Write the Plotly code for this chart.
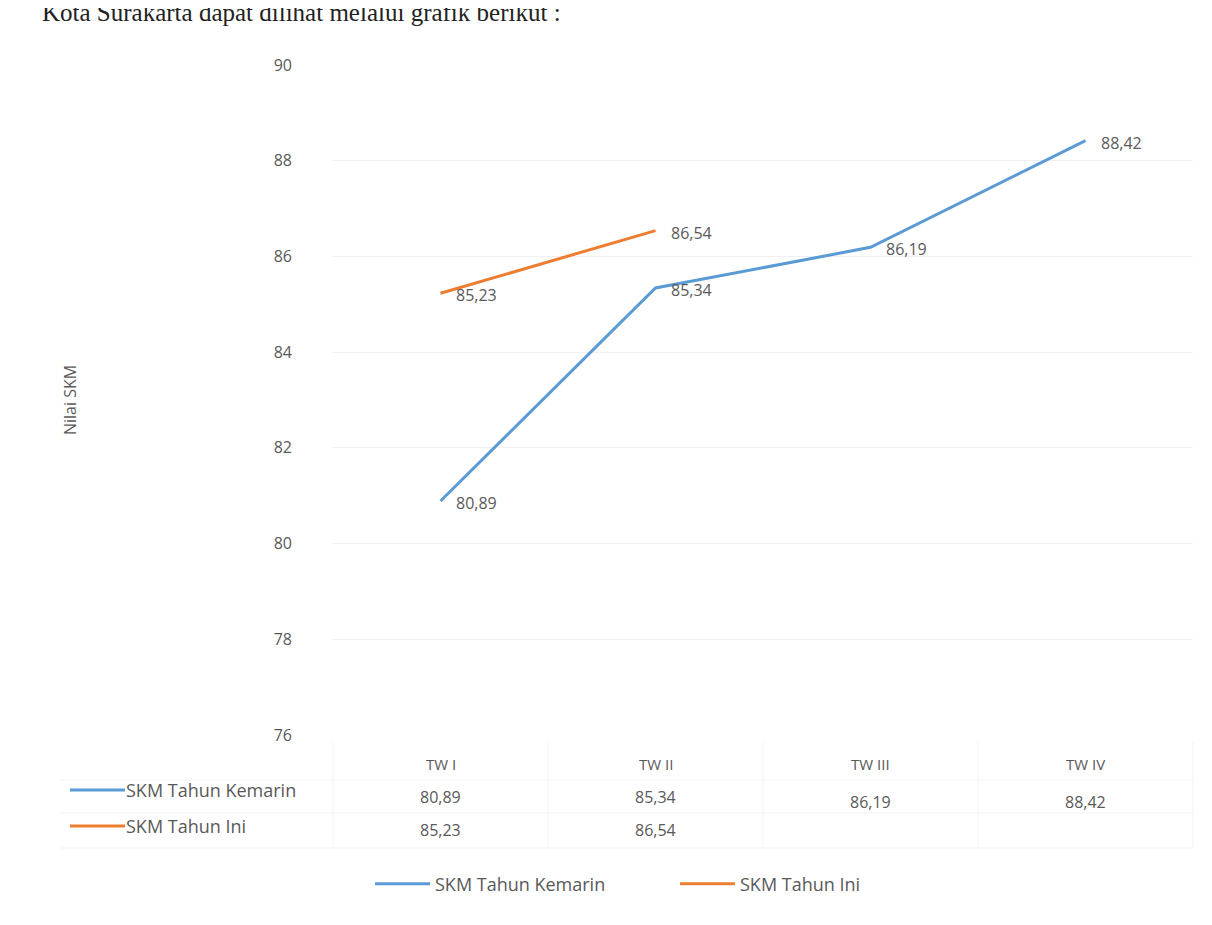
import plotly.graph_objects as go

categories = ["TW I", "TW II", "TW III", "TW IV"]
skm_kemarin = [80.89, 85.34, 86.19, 88.42]
skm_ini = [85.23, 86.54, None, None]
series_names = ["SKM Tahun Kemarin", "SKM Tahun Ini"]
y_ticks = [76, 78, 80, 82, 84, 86, 88, 90]

BLUE = "#5B9BD5"
ORANGE = "#ED7D31"
GREY = "#595959"
FONT = "Open Sans"

# page body has an 8px offset; screen pixel coordinates are converted below
OFF = 8
W, H = 1212, 925
PL, PR, PT, PB = 333, 1193, 65, 735          # plot area in screen pixels
ML, MT = PL - OFF, PT - OFF
MR = W - (PR - OFF)
MB = H - (PB - OFF)
PH = PB - PT
PW = PR - PL

def py(pix):
    return (PB - pix) / PH

def px(pix):
    return (pix - PL) / PW

def fmt(v):
    return f"{v:.2f}".replace(".", ",")

fig = go.Figure()
annotations = []
for name, vals, col in [(series_names[0], skm_kemarin, BLUE), (series_names[1], skm_ini, ORANGE)]:
    fig.add_trace(go.Scatter(
        x=categories, y=vals, name=name, mode="lines",
        line=dict(color=col, width=3),
        hoverinfo="x+y+name",
    ))
    for c, v in zip(categories, vals):
        if v is None:
            continue
        annotations.append(dict(text=fmt(v), xref="x", yref="y", x=c, y=v, xanchor="left", yanchor="middle",
                                xshift=13, yshift=-2, showarrow=False,
                                font=dict(family=FONT, size=16, color=GREY)))

# heading from the document (partially cut off at the top)
annotations.append(dict(text="Kota Surakarta dapat dilihat melalui grafik berikut :",
                        xref="paper", yref="paper", x=px(40), y=py(12), xanchor="left", yanchor="middle",
                        showarrow=False, font=dict(family="Liberation Serif", size=25, color="#222222")))
# y axis title
annotations.append(dict(text="Nilai SKM", xref="paper", yref="paper", x=px(70), y=py(400), textangle=-90,
                        xanchor="center", yanchor="middle", showarrow=False,
                        font=dict(family=FONT, size=16, color=GREY)))
# data table
for i, c in enumerate(categories):
    annotations.append(dict(text=c, xref="x", yref="paper", x=c, y=py(764), yanchor="middle", showarrow=False,
                            font=dict(family=FONT, size=15, color=GREY)))
    v1 = skm_kemarin[i]
    v2 = skm_ini[i]
    if v2 is None:
        annotations.append(dict(text=fmt(v1), xref="x", yref="paper", x=c, y=py(802), yanchor="middle",
                                showarrow=False, font=dict(family=FONT, size=16, color=GREY)))
    else:
        annotations.append(dict(text=fmt(v1), xref="x", yref="paper", x=c, y=py(797), yanchor="middle",
                                showarrow=False, font=dict(family=FONT, size=16, color=GREY)))
        annotations.append(dict(text=fmt(v2), xref="x", yref="paper", x=c, y=py(830), yanchor="middle",
                                showarrow=False, font=dict(family=FONT, size=16, color=GREY)))

shapes = []
for name, col, ypix in [(series_names[0], BLUE, 790), (series_names[1], ORANGE, 826)]:
    shapes.append(dict(type="line", xref="paper", yref="paper", x0=px(70), x1=px(125), y0=py(ypix), y1=py(ypix),
                       line=dict(color=col, width=3)))
    annotations.append(dict(text=name, xref="paper", yref="paper", x=px(124), y=py(ypix), xanchor="left",
                            yanchor="middle", showarrow=False, font=dict(family=FONT, size=18, color=GREY)))

# very faint table grid
for xpix in [333, 548, 763, 978, 1193]:
    shapes.append(dict(type="line", xref="paper", yref="paper", x0=px(xpix), x1=px(xpix), y0=py(742), y1=py(848),
                       line=dict(color="#F3F3F3", width=1)))
for ypix in [780, 813, 848]:
    shapes.append(dict(type="line", xref="paper", yref="paper", x0=px(60), x1=px(1193), y0=py(ypix), y1=py(ypix),
                       line=dict(color="#F3F3F3", width=1)))

fig.update_layout(
    width=W, height=H,
    margin=dict(l=ML, r=MR, t=MT, b=MB),
    paper_bgcolor="white", plot_bgcolor="white",
    font=dict(family=FONT, size=16, color=GREY),
    showlegend=True,
    legend=dict(orientation="h", x=px(370), y=py(884), xanchor="left", yanchor="middle",
                font=dict(family=FONT, size=18, color=GREY), itemwidth=55, traceorder="normal",
                entrywidth=235),
    xaxis=dict(showticklabels=False, showgrid=False, zeroline=False, showline=False,
               range=[-0.5, 3.5]),
    yaxis=dict(range=[76, 90], tickvals=y_ticks, ticktext=[str(t) for t in y_ticks],
               showgrid=True, gridcolor="#F0F0F0", gridwidth=1, zeroline=False, showline=False,
               ticks="", ticklabelstandoff=40, tickfont=dict(family=FONT, size=16, color=GREY)),
    annotations=annotations,
    shapes=shapes,
)

fig.write_html("out.html")
